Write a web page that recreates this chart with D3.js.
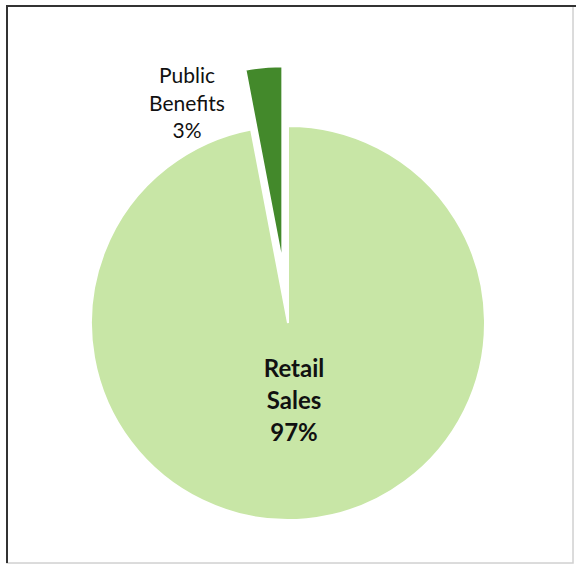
<!DOCTYPE html>
<html>
<head>
<meta charset="utf-8">
<script src="https://cdn.jsdelivr.net/npm/d3@7"></script>
<style>
  body { margin: 0; background: #fff; }
  svg { display: block; }
</style>
</head>
<body>
<div id="chart"></div>
<script>
var width = 576
var height = 568

// data
var categories = ["Retail Sales", "Public Benefits"]
var shares = [97, 3]
var colors = ["#c8e6a6", "#43892b"]
var explode = [0, 60]

var cx = 288, cy = 323, radius = 197

var svg = d3.select("#chart").append("svg")
    .attr("width", width)
    .attr("height", height)

// frame
svg.append("rect")
    .attr("x", 7).attr("y", 6)
    .attr("width", 566).attr("height", 557)
    .attr("fill", "none")
    .attr("stroke", "#d0d0d0")
    .attr("stroke-width", 1.5)
svg.append("path")
    .attr("d", "M7,563 L7,6 L576,6")
    .attr("fill", "none")
    .attr("stroke", "#333")
    .attr("stroke-width", 2)

var pie = d3.pie().sort(null).value(function(d) { return d; })
var arc = d3.arc().innerRadius(0).outerRadius(radius)

var g = svg.append("g").attr("transform", "translate(" + cx + "," + cy + ")")

var slices = pie(shares)

g.selectAll("path.slice")
    .data(slices)
    .enter()
    .append("path")
    .attr("class", "slice")
    .attr("d", arc)
    .attr("transform", function(d, i) {
      var mid = (d.startAngle + d.endAngle) / 2
      return "translate(" + (Math.sin(mid) * explode[i]) + "," + (-Math.cos(mid) * explode[i]) + ")"
    })
    .attr("fill", function(d, i) { return colors[i] })
    .attr("stroke", "#fff")
    .attr("stroke-width", 2)

// labels
var retail = svg.append("text")
    .attr("text-anchor", "middle")
    .style("font-family", "Lato, 'Open Sans', sans-serif")
    .style("font-weight", "bold")
    .style("font-size", "24px")
    .attr("fill", "#111")
;[categories[0].split(" ")[0], categories[0].split(" ")[1], shares[0] + "%"].forEach(function(t, i) {
  retail.append("tspan").attr("x", 294).attr("y", 377 + i * 32).text(t)
})

var pub = svg.append("text")
    .attr("text-anchor", "middle")
    .style("font-family", "Lato, 'Open Sans', sans-serif")
    .style("font-size", "21px")
    .attr("fill", "#111")
;[categories[1].split(" ")[0], categories[1].split(" ")[1], shares[1] + "%"].forEach(function(t, i) {
  pub.append("tspan").attr("x", 187).attr("y", 83 + i * 27.5).text(t)
})
</script>
</body>
</html>
